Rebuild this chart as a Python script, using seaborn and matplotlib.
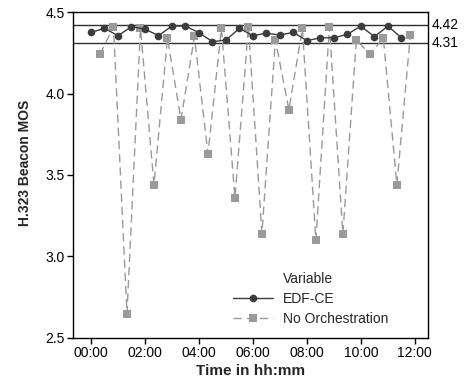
import matplotlib
matplotlib.use("Agg")
import matplotlib.pyplot as plt
import seaborn as sns
import pandas as pd
from matplotlib.lines import Line2D

edf_times = ["00:00", "00:30", "01:00", "01:30", "02:00", "02:30", "03:00", "03:30",
             "04:00", "04:30", "05:00", "05:30", "06:00", "06:30", "07:00", "07:30",
             "08:00", "08:30", "09:00", "09:30", "10:00", "10:30", "11:00", "11:30"]
edf_values = [4.375, 4.40, 4.355, 4.41, 4.395, 4.355, 4.414, 4.414,
              4.373, 4.318, 4.328, 4.40, 4.355, 4.37, 4.359, 4.375,
              4.324, 4.342, 4.342, 4.363, 4.414, 4.348, 4.414, 4.342]

noorch_times = ["00:20", "00:50", "01:20", "01:50", "02:20", "02:50", "03:20", "03:50",
                "04:20", "04:50", "05:20", "05:50", "06:20", "06:50", "07:20", "07:50",
                "08:20", "08:50", "09:20", "09:50", "10:20", "10:50", "11:20", "11:50"]
noorch_values = [4.24, 4.41, 2.65, 4.40, 3.44, 4.34, 3.84, 4.35,
                 3.63, 4.40, 3.36, 4.41, 3.14, 4.33, 3.90, 4.40,
                 3.10, 4.41, 3.14, 4.33, 4.24, 4.34, 3.44, 4.36]

ref_lines = [4.42, 4.31]
x_ticks = ["00:00", "02:00", "04:00", "06:00", "08:00", "10:00", "12:00"]
y_ticks = [2.5, 3.0, 3.5, 4.0, 4.5]


def to_hours(t):
    h, m = t.split(":")
    return int(h) + int(m) / 60.0


edf_df = pd.DataFrame({"hours": [to_hours(t) for t in edf_times], "mos": edf_values})
no_df = pd.DataFrame({"hours": [to_hours(t) for t in noorch_times], "mos": noorch_values})

sns.set_style("ticks")
plt.rcParams["font.family"] = ["Liberation Sans", "DejaVu Sans"]

fig = plt.figure(figsize=(4.65, 3.88), dpi=100)
ax = fig.add_axes([0.157, 0.129, 0.763, 0.840])

dark = "#3c3c3c"
light = "#9a9a9a"
dash = (0, (6, 3.5))

sns.lineplot(data=no_df, x="hours", y="mos", ax=ax, color=light, marker="s",
             markersize=5.5, markeredgewidth=0, linewidth=1.0, dashes=False,
             linestyle=dash, zorder=3)
sns.lineplot(data=edf_df, x="hours", y="mos", ax=ax, color=dark, marker="o",
             markersize=5.5, markeredgewidth=0, linewidth=1.0, zorder=4)

for v in ref_lines:
    ax.axhline(v, color="#303030", linewidth=1.0, zorder=2)
    ax.text(1.012, v, f"{v:.2f}", transform=ax.get_yaxis_transform(),
            va="center", ha="left", fontsize=10, color="black")

ax.set_xlim(-0.667, 12.48)
ax.set_ylim(2.5, 4.5)
ax.set_xticks([to_hours(t) for t in x_ticks])
ax.set_xticklabels(x_ticks)
ax.set_yticks(y_ticks)
ax.set_yticklabels([f"{v:.1f}" for v in y_ticks])
ax.tick_params(axis="both", labelsize=10, direction="out", length=4, width=1,
               color="black", labelcolor="black", pad=2)
for s in ax.spines.values():
    s.set_visible(True)
    s.set_color("black")
    s.set_linewidth(1.0)

ax.set_xlabel("Time in hh:mm", fontsize=11, fontweight="bold", labelpad=3)
ax.set_ylabel("H.323 Beacon MOS", fontsize=10, fontweight="bold")
ax.yaxis.set_label_coords(-0.115, 0.537)

handles = [
    Line2D([], [], linestyle="none"),
    Line2D([], [], color=dark, marker="o", markersize=5.5, markeredgewidth=0, linewidth=1.0),
    Line2D([], [], color=light, marker="s", markersize=5.5, markeredgewidth=0,
           linewidth=1.0, linestyle=dash),
]
leg = ax.legend(handles, ["Variable", "EDF-CE", "No Orchestration"],
                loc="lower right", bbox_to_anchor=(0.915, 0.008), frameon=False,
                fontsize=10, handlelength=2.9, handletextpad=0.7,
                labelspacing=0.42, borderpad=0.2)

fig.savefig("out.png", dpi=100)
